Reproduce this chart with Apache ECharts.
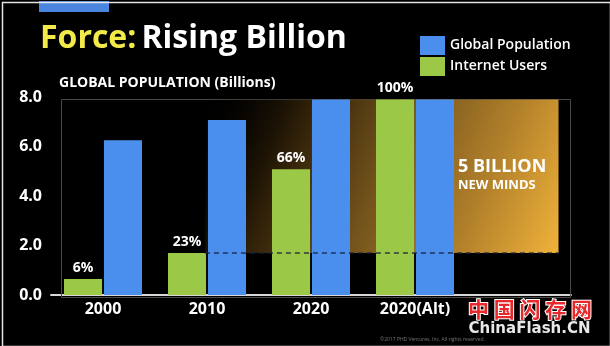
<!DOCTYPE html>
<html>
<head>
<meta charset="utf-8">
<script src="https://cdn.jsdelivr.net/npm/echarts@6/dist/echarts.min.js"></script>
<style>
html,body{margin:0;padding:0;background:#000;}
#chart{width:610px;height:346px;}
</style>
</head>
<body>
<div id="chart"></div>
<script>
// ---- data ----
const categories = ['2000', '2010', '2020', '2020(Alt)', ''];
const internetUsers = [0.65, 1.7, 5.08, 7.9];       // billions
const globalPopulation = [6.25, 7.07, 7.9, 7.9];    // billions
const pctLabels = ['6%', '23%', '66%', '100%'];
const yTicks = { min: 0, max: 8, interval: 2 };

const FONT = '"Open Sans", Lato, sans-serif';
const GREEN = '#9bc947';
const BLUE = '#4a8fee';

const chart = echarts.init(document.getElementById('chart'), null, { renderer: 'canvas' });

const goldGradient = {
  type: 'linear', x: 0, y: 0, x2: 1, y2: 1,
  colorStops: [
    { offset: 0, color: 'rgba(0,0,0,0)' },
    { offset: 0.25, color: '#2e1f08' },
    { offset: 0.5, color: '#74541c' },
    { offset: 0.75, color: '#b07f2a' },
    { offset: 1, color: '#f0b23a' }
  ]
};

const option = {
  backgroundColor: '#000',
  animation: false,
  title: {
    left: 35, top: 18,
    text: '{y|Force:} {w|Rising Billion}',
    textStyle: {
      rich: {
        y: { color: '#f2ea48', fontSize: 32, fontWeight: 'bold', fontFamily: FONT },
        w: { color: '#ffffff', fontSize: 32, fontWeight: 'bold', fontFamily: FONT }
      }
    }
  },
  legend: {
    orient: 'vertical',
    left: 415, top: 31,
    itemWidth: 25, itemHeight: 19, itemGap: 2,
    data: ['Global Population', 'Internet Users'],
    icon: 'rect',
    textStyle: { color: '#fff', fontSize: 14, fontWeight: 600, fontFamily: FONT, padding: [0, 0, 0, 0] }
  },
  grid: { left: 51, right: 39, top: 97, bottom: 51 },
  xAxis: [
    {
      type: 'category', data: categories,
      axisLine: { show: true, lineStyle: { color: '#d8d8d8', width: 2 } },
      axisTick: { show: false },
      axisLabel: { color: '#fff', fontSize: 16, fontWeight: 'bold', fontFamily: FONT, margin: 6 }
    },
    { type: 'value', min: 0, max: categories.length, show: false }
  ],
  yAxis: {
    type: 'value', min: yTicks.min, max: yTicks.max, interval: yTicks.interval,
    axisLine: { show: false }, axisTick: { show: false }, splitLine: { show: false },
    axisLabel: { color: '#fff', fontSize: 16, fontWeight: 'bold', fontFamily: FONT, margin: 9,
      formatter: v => v.toFixed(1) }
  },
  series: [
    {
      name: 'gold', type: 'line', xAxisIndex: 1, data: [], z: 0, silent: true,
      markArea: {
        silent: true,
        itemStyle: { color: goldGradient },
        data: [[{ coord: [1.48, globalPopulation[2]] }, { coord: [4.88, internetUsers[1]] }]]
      }
    },
    {
      name: 'Internet Users', type: 'bar', data: internetUsers, z: 2,
      barCategoryGap: '25%', barGap: '5%',
      itemStyle: { color: GREEN },
      label: {
        show: true, position: 'top', distance: 4,
        color: '#fff', fontSize: 14, fontWeight: 'bold', fontFamily: FONT,
        formatter: p => pctLabels[p.dataIndex]
      }
    },
    {
      name: 'Global Population', type: 'bar', data: globalPopulation, z: 2,
      barCategoryGap: '25%', barGap: '5%',
      itemStyle: { color: BLUE }
    },
    {
      name: 'dash', type: 'line', xAxisIndex: 1, data: [], z: 10, silent: true,
      markLine: {
        silent: true, symbol: ['none', 'none'],
        label: { show: false },
        lineStyle: { color: 'rgba(25,35,60,0.85)', type: [5, 4], width: 1.5 },
        data: [[{ coord: [1.48, internetUsers[1]] }, { coord: [4.88, internetUsers[1]] }]]
      }
    }
  ],
  graphic: [
    { type: 'rect', left: 39, top: 1, shape: { width: 70, height: 11 }, style: { fill: '#4a86e0' } },
    { type: 'rect', left: 59, top: 97, shape: { width: 509, height: 198 },
      style: { fill: 'none', stroke: '#4a4a4a', lineWidth: 1 }, z: 1 },
    { type: 'text', left: 59, top: 76,
      style: { text: 'GLOBAL POPULATION (Billions)', fill: '#fff', fontSize: 14, fontWeight: 'bold', fontFamily: FONT } },
    { type: 'text', left: 458, top: 158, z: 20,
      style: {
        text: '{a|5 BILLION}\n{b|NEW MINDS}',
        rich: {
          a: { fill: '#fff', fontSize: 18, fontWeight: 'bold', fontFamily: FONT, lineHeight: 20 },
          b: { fill: '#fff', fontSize: 13, fontWeight: 'bold', fontFamily: FONT, lineHeight: 16 }
        }
      } },
    { type: 'text', left: 467, top: 298, z: 30,
      style: { text: '中 国 闪 存 网', fill: '#e8282a', stroke: '#fff', lineWidth: 2,
        fontSize: 21, fontWeight: 'bold', fontFamily: '"Noto Sans CJK SC", sans-serif' } },
    { type: 'text', left: 468, top: 321, z: 30,
      style: { text: 'ChinaFlash.CN', fill: '#e8e8e8', stroke: '#000', lineWidth: 1,
        fontSize: 15, fontWeight: 'bold', fontFamily: '"DejaVu Sans", sans-serif' } },
    { type: 'text', left: 380, top: 337, z: 30,
      style: { text: '©2017 PHD Ventures, Inc. All rights reserved.', fill: '#777', fontSize: 5, fontFamily: FONT } },
    { type: 'rect', left: 0, top: 0, z: 50, silent: true,
      shape: { x: 0.5, y: 0.5, width: 608, height: 344 },
      style: { fill: 'none', stroke: '#e4e4e4', lineWidth: 1.5 } }
  ]
};

chart.setOption(option);
</script>
</body>
</html>
